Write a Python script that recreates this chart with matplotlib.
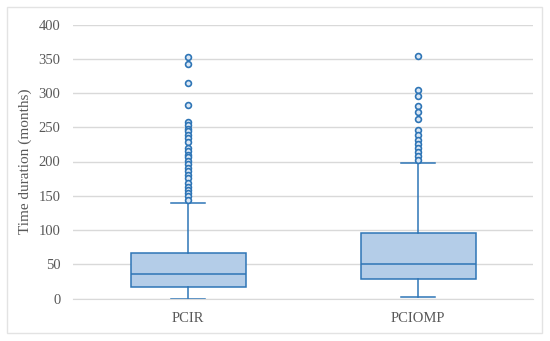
import matplotlib.pyplot as plt
from matplotlib.patches import Rectangle

# data
groups = ['PCIR', 'PCIOMP']
lower_whisker = [0, 2]
q1 = [17, 28]
median = [36, 50]
q3 = [67, 96]
upper_whisker = [139, 198]
outliers_pcir = [353, 342, 314, 282, 258, 253, 248, 244, 239, 234, 228, 220, 215,
                 210, 206, 201, 196, 191, 186, 181, 176, 168, 163, 158, 154, 149, 144]
outliers_pciomp = [354, 305, 295, 281, 272, 262, 246, 238, 232, 226, 220, 214, 208, 202]
y_ticks = [0, 50, 100, 150, 200, 250, 300, 350, 400]

blue = '#2e75b6'
fill = '#b4cde8'
gray_text = '#595959'

plt.rcParams['font.family'] = ['Liberation Serif', 'DejaVu Serif']

fig = plt.figure(figsize=(5.5, 3.41), dpi=100)
fig.patches.append(Rectangle((7 / 550, 8 / 341), 535 / 550, 326 / 341, transform=fig.transFigure,
                             fill=False, edgecolor='#e3e3e3', linewidth=1))
ax = fig.add_axes([73 / 550, 42.5 / 341, 460 / 550, 274 / 341])

stats = []
fliers = [outliers_pcir, outliers_pciomp]
for k in range(len(groups)):
    stats.append({'label': groups[k], 'whislo': lower_whisker[k], 'q1': q1[k],
                  'med': median[k], 'q3': q3[k], 'whishi': upper_whisker[k],
                  'fliers': fliers[k]})

ax.bxp(stats, positions=[1, 2], widths=0.5, patch_artist=True, showfliers=True,
       boxprops=dict(facecolor=fill, edgecolor=blue, linewidth=1.1),
       medianprops=dict(color=blue, linewidth=1.1),
       whiskerprops=dict(color=blue, linewidth=1.1),
       capprops=dict(color=blue, linewidth=1.1),
       capwidths=0.145,
       flierprops=dict(marker='o', markersize=4.2, markerfacecolor='#dce8f5',
                       markeredgecolor=blue, markeredgewidth=1.2, linestyle='none'))

ax.set_xlim(0.5, 2.5)
ax.set_ylim(0, 400)
ax.set_yticks(y_ticks)
ax.yaxis.grid(True, color='#d9d9d9', linewidth=1)
ax.set_axisbelow(True)
for s in ['top', 'right', 'left']:
    ax.spines[s].set_visible(False)
ax.spines['bottom'].set_color('#d9d9d9')
ax.tick_params(axis='both', length=0, colors=gray_text, labelsize=10.5)
ax.tick_params(axis='y', pad=9)
ax.tick_params(axis='x', pad=10)
ax.set_ylabel('Time duration (months)', color=gray_text, fontsize=11, labelpad=5)

fig.savefig('out.png', dpi=100)
